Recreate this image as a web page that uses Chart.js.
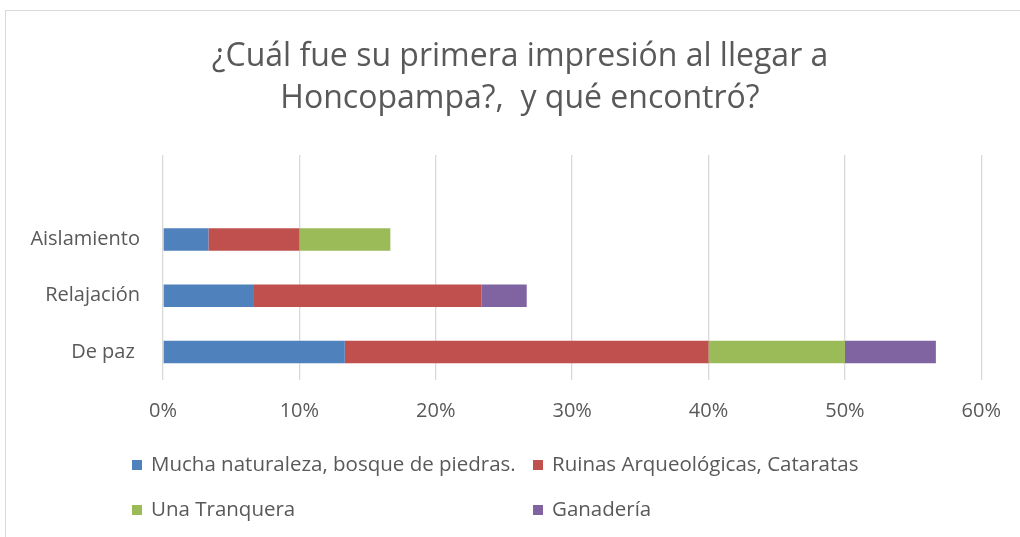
<!DOCTYPE html>
<html>
<head>
<meta charset="utf-8">
<script src="https://cdn.jsdelivr.net/npm/chart.js@4/dist/chart.umd.min.js"></script>
<style>
  html, body { margin: 0; padding: 0; background: #fff; }
  #wrap { position: relative; width: 1020px; height: 537px; overflow: hidden; }
  #frame { position: absolute; left: 5px; top: 10px; width: 1100px; height: 600px; border-left: 1px solid #d9d9d9; border-top: 1px solid #d9d9d9; }
  canvas { position: absolute; left: 0; top: 0; }
  .leg { position: absolute; font-family: "Open Sans", sans-serif; font-size: 20.5px; color: #595959; white-space: nowrap; line-height: 24px; }
  .leg span.sw { display: inline-block; width: 10px; height: 10px; margin-right: 9px; vertical-align: 1px; }
</style>
</head>
<body>
<div id="wrap">
  <div id="frame"></div>
  <canvas id="c" width="1020" height="537"></canvas>
</div>
<script>
const categories = ["", "Aislamiento", "Relajación", "De paz "];
const seriesNames = ["Mucha naturaleza, bosque de piedras.", "Ruinas Arqueológicas, Cataratas", "Una Tranquera", "Ganadería"];
const naturaleza = [null, 0.0333, 0.0667, 0.1333];
const ruinas     = [null, 0.0667, 0.1667, 0.2667];
const tranquera  = [null, 0.0667, null, 0.1000];
const ganaderia  = [null, null, 0.0333, 0.0667];
const xTicks = [0, 0.1, 0.2, 0.3, 0.4, 0.5, 0.6];
const colors = ["#4F81BD", "#C0504D", "#9BBB59", "#8064A2"];

const seriesData = [naturaleza, ruinas, tranquera, ganaderia];
const datasets = seriesNames.map((name, i) => ({
  label: name,
  data: seriesData[i],
  backgroundColor: colors[i],
  borderWidth: 0,
  barPercentage: 0.4,
  categoryPercentage: 1.0
}));

// shift the title box so that it is centred on the chart frame like the reference
const titleShift = {
  id: 'titleShift',
  afterLayout(chart) {
    const t = chart.titleBlock;
    if (t) { t.left = 57; t.right = 983; t.width = t.right - t.left; }
  }
};

new Chart(document.getElementById('c'), {
  type: 'bar',
  data: { labels: categories, datasets },
  plugins: [titleShift],
  options: {
    indexAxis: 'y',
    responsive: false,
    animation: false,
    layout: { padding: { left: 0, right: 37, top: 0, bottom: 107 } },
    plugins: {
      legend: { display: false },
      tooltip: { enabled: false },
      title: {
        display: true,
        text: ["¿Cuál fue su primera impresión al llegar a", "Honcopampa?,  y qué encontró?"],
        color: "#595959",
        font: { family: "Open Sans", size: 32, weight: 'normal', lineHeight: 1.3125 },
        padding: { top: 36, bottom: 35 }
      }
    },
    scales: {
      x: {
        stacked: true,
        min: 0, max: 0.6,
        afterBuildTicks: (s) => { s.ticks = xTicks.map(v => ({ value: v })); },
        afterFit: (s) => { s.height = 50; },
        grid: { color: "#d9d9d9", lineWidth: 1.3, drawTicks: false },
        border: { display: false },
        ticks: {
          padding: 19,
          color: "#595959",
          font: { family: "Open Sans", size: 20 },
          callback: (v) => Math.round(v * 100) + "%"
        }
      },
      y: {
        stacked: true,
        afterFit: (s) => { s.width = 163; },
        grid: { display: false, drawTicks: false },
        border: { display: false },
        ticks: {
          padding: 23,
          color: "#595959",
          font: { family: "Open Sans", size: 20 }
        }
      }
    }
  }
});

// legend (two-column grid as in the reference)
const legPos = [[132, 451], [533, 451], [132, 496], [533, 496]];
const wrap = document.getElementById('wrap');
seriesNames.forEach((name, i) => {
  const d = document.createElement('div');
  d.className = 'leg';
  d.style.left = legPos[i][0] + 'px';
  d.style.top = legPos[i][1] + 'px';
  const sw = document.createElement('span');
  sw.className = 'sw';
  sw.style.background = colors[i];
  d.appendChild(sw);
  d.appendChild(document.createTextNode(name));
  wrap.appendChild(d);
});
</script>
</body>
</html>
